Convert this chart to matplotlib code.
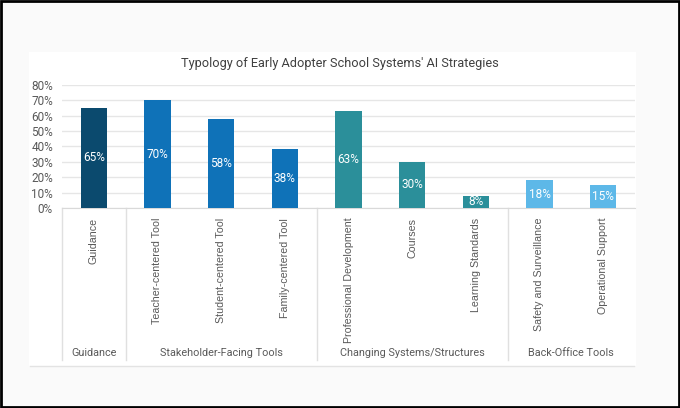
import matplotlib
matplotlib.use("Agg")
import matplotlib.pyplot as plt
from matplotlib.patches import Rectangle
from matplotlib.lines import Line2D

categories = ["Guidance", "Teacher-centered Tool", "Student-centered Tool", "Family-centered Tool",
              "Professional Development", "Courses", "Learning Standards",
              "Safety and Surveillance", "Operational Support"]
values = [0.65, 0.70, 0.58, 0.38, 0.63, 0.30, 0.08, 0.18, 0.15]
groups = ["Guidance", "Stakeholder-Facing Tools", "Changing Systems/Structures", "Back-Office Tools"]
group_sizes = [1, 3, 3, 2]
group_colors = ["#0b4a6e", "#0f72b8", "#2b8f9a", "#5db8e8"]
yticks = [0, 0.1, 0.2, 0.3, 0.4, 0.5, 0.6, 0.7, 0.8]

W, H = 680, 408

fig = plt.figure(figsize=(W / 100, H / 100), dpi=100)
fig.patch.set_facecolor("#fafafa")


def px(x0, y0, w, h):
    # pixel box (top-left origin) to figure fraction
    return [x0 / W, 1 - (y0 + h) / H, w / W, h / H]


# white chart panel + bottom rule + black frame
fig.add_artist(Rectangle((29 / W, 1 - 366 / H), (636 - 29) / W, (366 - 52) / H,
                         transform=fig.transFigure, facecolor="white", edgecolor="none", zorder=0))
fig.add_artist(Line2D([30 / W, 634 / W], [1 - 366 / H] * 2, transform=fig.transFigure,
                      color="#e3e3e3", lw=1))
fig.add_artist(Rectangle((0.0015, 0.0025), 0.997, 0.995, transform=fig.transFigure,
                         facecolor="none", edgecolor="black", lw=2, zorder=10))

ax = fig.add_axes(px(62, 84.7, 573, 123.3))
ax.set_facecolor("none")

colors = []
for c, n in zip(group_colors, group_sizes):
    colors += [c] * n

x = list(range(len(categories)))
ax.bar(x, values, width=0.41, color=colors, zorder=3)
for xi, v in zip(x, values):
    ax.text(xi, v / 2, f"{round(v * 100)}%", ha="center", va="center", color="white",
            fontsize=8.5, family="Roboto", zorder=4)

ax.set_xlim(-0.5, len(categories) - 0.5)
ax.set_ylim(0, 0.8)
ax.set_yticks(yticks)
ax.set_yticklabels([f"{round(t * 100)}%" for t in yticks], family="Roboto", fontsize=8.5, color="#595959")
ax.yaxis.grid(True, color="#e6e6e6", lw=1, zorder=0)
ax.tick_params(axis="y", length=0, pad=6.5)
ax.tick_params(axis="x", length=0, pad=7)
ax.set_xticks(x)
ax.set_xticklabels(categories, rotation=90, va="top", ha="center",
                   family="Liberation Sans", fontsize=7.7, color="#595959")
for s in ["top", "right", "left"]:
    ax.spines[s].set_visible(False)
ax.spines["bottom"].set_color("#d9d9d9")

# group separators and labels under the axis
trans = ax.get_xaxis_transform()
start = -0.5
for g, n in zip(groups, group_sizes):
    ax.plot([start, start], [0, -1.233], transform=trans, color="#e0e0e0", lw=1, clip_on=False)
    ax.text(start + n / 2, -1.176, g, transform=trans, ha="center", va="center",
            family="Roboto", fontsize=7.8, color="#595959")
    start += n

fig.text(340 / W, 1 - 64 / H, "Typology of Early Adopter School Systems' AI Strategies",
         ha="center", va="center", family="Roboto", fontsize=9.2, color="#404040")

fig.savefig("out.png", dpi=100, facecolor=fig.get_facecolor())
